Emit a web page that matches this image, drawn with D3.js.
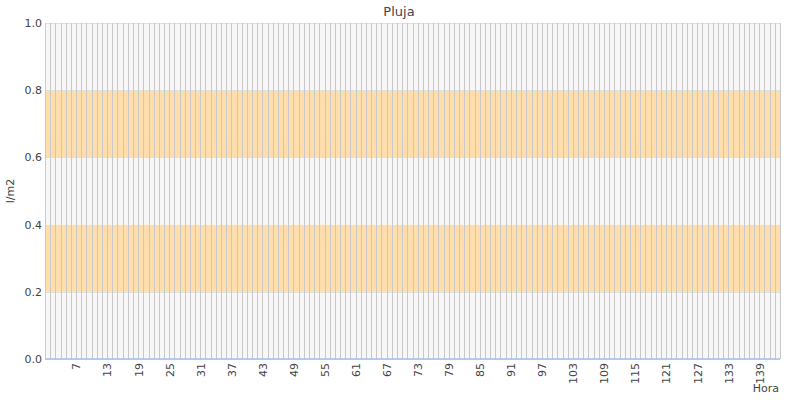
<!DOCTYPE html>
<html>
<head>
<meta charset="utf-8">
<script src="https://cdn.jsdelivr.net/npm/d3@7"></script>
<style>
  html, body { margin: 0; padding: 0; background: #fff; }
  text { font-family: "DejaVu Sans", sans-serif; }
</style>
</head>
<body>
<svg id="chart" width="800" height="400"></svg>
<script>
const title = "Pluja";
const yLabel = "l/m2";
const xLabel = "Hora";
const hours = [1,2,3,4,5,6,7,8,9,10,11,12,13,14,15,16,17,18,19,20,
  21,22,23,24,25,26,27,28,29,30,31,32,33,34,35,36,37,38,39,40,
  41,42,43,44,45,46,47,48,49,50,51,52,53,54,55,56,57,58,59,60,
  61,62,63,64,65,66,67,68,69,70,71,72,73,74,75,76,77,78,79,80,
  81,82,83,84,85,86,87,88,89,90,91,92,93,94,95,96,97,98,99,100,
  101,102,103,104,105,106,107,108,109,110,111,112,113,114,115,116,117,118,119,120,
  121,122,123,124,125,126,127,128,129,130,131,132,133,134,135,136,137,138,139,140,
  141,142,143];
const rain = [0,0,0,0,0,0,0,0,0,0,0,0,0,0,0,0,0,0,0,0,
  0,0,0,0,0,0,0,0,0,0,0,0,0,0,0,0,0,0,0,0,
  0,0,0,0,0,0,0,0,0,0,0,0,0,0,0,0,0,0,0,0,
  0,0,0,0,0,0,0,0,0,0,0,0,0,0,0,0,0,0,0,0,
  0,0,0,0,0,0,0,0,0,0,0,0,0,0,0,0,0,0,0,0,
  0,0,0,0,0,0,0,0,0,0,0,0,0,0,0,0,0,0,0,0,
  0,0,0,0,0,0,0,0,0,0,0,0,0,0,0,0,0,0,0,0,
  0,0,0];
const xTickLabels = [7,13,19,25,31,37,43,49,55,61,67,73,79,85,91,97,103,109,115,121,127,133,139];
const yTicks = [0, 0.2, 0.4, 0.6, 0.8, 1.0];
const bandColors = ["#f7f7f7", "#ffdeab", "#f7f7f7", "#ffdeab", "#f7f7f7"];

const svg = d3.select("#chart");
const m = { left: 45, right: 20, top: 23, bottom: 41 };
const W = 800, H = 400;

const x = d3.scalePoint().domain(hours).range([m.left, W - m.right]);
const y = d3.scaleLinear().domain([0, 1]).range([H - m.bottom, m.top]);

// bands
const bands = yTicks.slice(0, -1).map((v, i) => ({ y0: v, y1: yTicks[i + 1], c: bandColors[i] }));
svg.append("g").selectAll("rect").data(bands).join("rect")
  .attr("x", m.left).attr("width", W - m.right - m.left)
  .attr("y", d => y(d.y1)).attr("height", d => y(d.y0) - y(d.y1))
  .attr("fill", d => d.c);

// horizontal grid
svg.append("g").selectAll("line").data(yTicks).join("line")
  .attr("x1", m.left).attr("x2", W - m.right)
  .attr("y1", d => Math.round(y(d)) + 0.5).attr("y2", d => Math.round(y(d)) + 0.5)
  .attr("stroke", "#e0e0e0").attr("stroke-width", 1);

// vertical grid
svg.append("g").selectAll("line").data(hours).join("line")
  .attr("x1", d => Math.round(x(d)) + 0.5).attr("x2", d => Math.round(x(d)) + 0.5)
  .attr("y1", m.top).attr("y2", H - m.bottom)
  .attr("stroke", "#c8c8c8").attr("stroke-width", 1);

// left axis line
svg.append("line")
  .attr("x1", m.left + 0.5).attr("x2", m.left + 0.5)
  .attr("y1", m.top).attr("y2", H - m.bottom)
  .attr("stroke", "#cccccc");

// series line
const line = d3.line().x((d, i) => x(hours[i])).y(d => y(d));
svg.append("path").datum(rain)
  .attr("d", line).attr("fill", "none")
  .attr("stroke", "#a4c2ea").attr("stroke-width", 1.5);

// y axis
const yAxis = d3.axisLeft(y).tickValues(yTicks).tickFormat(d3.format(".1f")).tickSize(0).tickPadding(3);
const yg = svg.append("g").attr("transform", `translate(${m.left},0)`).call(yAxis);
yg.select(".domain").remove();
yg.selectAll("text").attr("font-size", 11).attr("fill", "#444").attr("font-family", "DejaVu Sans, sans-serif");

// x axis
const xAxis = d3.axisBottom(x).tickValues(xTickLabels).tickSize(0).tickPadding(3);
const xg = svg.append("g").attr("transform", `translate(0,${H - m.bottom})`).call(xAxis);
xg.select(".domain").remove();
xg.selectAll("text")
  .attr("font-size", 11).attr("fill", "#444").attr("font-family", "DejaVu Sans, sans-serif")
  .attr("transform", "rotate(-90)")
  .attr("text-anchor", "end")
  .attr("dy", "0.35em")
  .attr("x", -4).attr("y", 0);

// title
svg.append("text").attr("x", 399).attr("y", 16)
  .attr("text-anchor", "middle").attr("font-size", 13).attr("fill", "#444")
  .text(title);

// y label
svg.append("text")
  .attr("transform", `translate(14,${(m.top + H - m.bottom) / 2}) rotate(-90)`)
  .attr("text-anchor", "middle").attr("font-size", 11).attr("fill", "#444")
  .text(yLabel);

// x label
svg.append("text").attr("x", W - m.right - 1).attr("y", 392)
  .attr("text-anchor", "end").attr("font-size", 11).attr("fill", "#444")
  .text(xLabel);
</script>
</body>
</html>
